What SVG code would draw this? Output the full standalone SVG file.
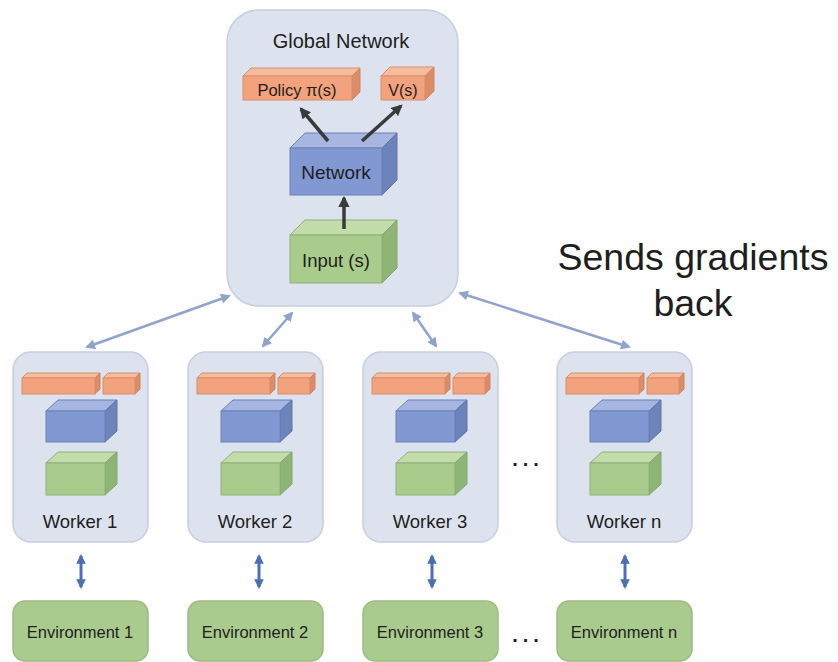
<svg xmlns="http://www.w3.org/2000/svg" width="838" height="662" viewBox="0 0 838 662">
<defs>
<style>
text{font-family:"Liberation Sans",Arial,sans-serif;fill:#1e1e1e;text-anchor:middle}
.panel{fill:#dce3ef;stroke:#c6cfe0;stroke-width:1.5}
.env{fill:#aacb8e;stroke:#9bbb80;stroke-width:1.5}
.of{fill:#f2a27c;stroke:#d98e6a;stroke-width:1}
.ot{fill:#f6bc9f;stroke:#d98e6a;stroke-width:1}
.or{fill:#db8c68;stroke:#d08462;stroke-width:1}
.bf{fill:#8198d2;stroke:#6a80b8;stroke-width:1}
.bt{fill:#a6b6e0;stroke:#6a80b8;stroke-width:1}
.br{fill:#6d83bc;stroke:#60759f;stroke-width:1}
.gf{fill:#a9cc8c;stroke:#8fb074;stroke-width:1}
.gt{fill:#c3dcab;stroke:#8fb074;stroke-width:1}
.gr{fill:#8fb576;stroke:#82a56a;stroke-width:1}
.dk{stroke:#3a3a3a;stroke-width:3.5;fill:none}
.lb{stroke:#8fa3cc;stroke-width:2.5;fill:none}
.bl{stroke:#4a6fb5;stroke-width:3;fill:none}
.wl{font-size:18.5px}
.el{font-size:16.5px}
</style>
<marker id="mdk" viewBox="0 0 10 10" refX="8" refY="5" markerWidth="3.2" markerHeight="3.2" orient="auto-start-reverse"><path d="M0,0L10,5L0,10z" fill="#3a3a3a"/></marker>
<marker id="mlb" viewBox="0 0 10 10" refX="8" refY="5" markerWidth="4" markerHeight="4" orient="auto-start-reverse"><path d="M0,0L10,5L0,10z" fill="#8fa3cc"/></marker>
<marker id="mbl" viewBox="0 0 10 10" refX="8" refY="5" markerWidth="3.2" markerHeight="3.2" orient="auto-start-reverse"><path d="M0,0L10,5L0,10z" fill="#4a6fb5"/></marker>
</defs>
<rect width="838" height="662" fill="#ffffff"/>

<g id="global">
<rect class="panel" x="227" y="10" width="231" height="296" rx="32"/>
<text x="341" y="48" font-size="20">Global Network</text>
<g id="policy">
<polygon class="ot" points="243,76 251,68 360,68 352,76"/>
<polygon class="or" points="352,76 360,68 360,92 352,100"/>
<rect class="of" x="243" y="76" width="109" height="24"/>
<text x="297" y="96" font-size="16.5">Policy π(s)</text>
</g>
<g id="value">
<polygon class="ot" points="381,76 390,67 434,67 425,76"/>
<polygon class="or" points="425,76 434,67 434,91 425,100"/>
<rect class="of" x="381" y="76" width="44" height="24"/>
<text x="403" y="96" font-size="16">V(s)</text>
</g>
<g id="network">
<polygon class="bt" points="290,148 305,133 397,133 382,148"/>
<polygon class="br" points="382,148 397,133 397,180 382,195"/>
<rect class="bf" x="290" y="148" width="92" height="47"/>
<text x="336" y="179" font-size="19">Network</text>
</g>
<g id="input">
<polygon class="gt" points="290,235 305,220 397,220 382,235"/>
<polygon class="gr" points="382,235 397,220 397,268 382,283"/>
<rect class="gf" x="290" y="235" width="92" height="48"/>
<text x="336" y="267" font-size="18.5">Input (s)</text>
</g>
</g>

<g id="connectors">
<line class="dk" x1="328" y1="141" x2="301" y2="109" marker-end="url(#mdk)"/>
<line class="dk" x1="362" y1="141" x2="401" y2="106" marker-end="url(#mdk)"/>
<line class="dk" x1="344" y1="229" x2="344" y2="198" marker-end="url(#mdk)"/>
<line class="lb" x1="229" y1="296" x2="87" y2="347" marker-start="url(#mlb)" marker-end="url(#mlb)"/>
<line class="lb" x1="292" y1="313" x2="263" y2="346" marker-start="url(#mlb)" marker-end="url(#mlb)"/>
<line class="lb" x1="413" y1="313" x2="436" y2="346" marker-start="url(#mlb)" marker-end="url(#mlb)"/>
<line class="lb" x1="460" y1="293" x2="629" y2="347" marker-start="url(#mlb)" marker-end="url(#mlb)"/>
<line class="bl" x1="81" y1="556" x2="81" y2="587" marker-start="url(#mbl)" marker-end="url(#mbl)"/>
<line class="bl" x1="259" y1="556" x2="259" y2="587" marker-start="url(#mbl)" marker-end="url(#mbl)"/>
<line class="bl" x1="432" y1="556" x2="432" y2="587" marker-start="url(#mbl)" marker-end="url(#mbl)"/>
<line class="bl" x1="625" y1="556" x2="625" y2="587" marker-start="url(#mbl)" marker-end="url(#mbl)"/>
</g>

<g id="worker1" transform="translate(13,0)">
<rect class="panel" x="0" y="352" width="135" height="190" rx="18"/>
<polygon class="ot" points="9,378 14,373 87,373 82,378"/><polygon class="or" points="82,378 87,373 87,389 82,394"/><rect class="of" x="9" y="378" width="73" height="16"/>
<polygon class="ot" points="90,378 95,373 127,373 122,378"/><polygon class="or" points="122,378 127,373 127,389 122,394"/><rect class="of" x="90" y="378" width="32" height="16"/>
<polygon class="bt" points="33,411 45,400 104,400 92,411"/><polygon class="br" points="92,411 104,400 104,431 92,442"/><rect class="bf" x="33" y="411" width="59" height="31"/>
<polygon class="gt" points="33,463 45,452 104,452 92,463"/><polygon class="gr" points="92,463 104,452 104,484 92,495"/><rect class="gf" x="33" y="463" width="59" height="32"/>
<text class="wl" x="67" y="528">Worker 1</text>
</g>
<g id="worker2" transform="translate(188,0)">
<rect class="panel" x="0" y="352" width="135" height="190" rx="18"/>
<polygon class="ot" points="9,378 14,373 87,373 82,378"/><polygon class="or" points="82,378 87,373 87,389 82,394"/><rect class="of" x="9" y="378" width="73" height="16"/>
<polygon class="ot" points="90,378 95,373 127,373 122,378"/><polygon class="or" points="122,378 127,373 127,389 122,394"/><rect class="of" x="90" y="378" width="32" height="16"/>
<polygon class="bt" points="33,411 45,400 104,400 92,411"/><polygon class="br" points="92,411 104,400 104,431 92,442"/><rect class="bf" x="33" y="411" width="59" height="31"/>
<polygon class="gt" points="33,463 45,452 104,452 92,463"/><polygon class="gr" points="92,463 104,452 104,484 92,495"/><rect class="gf" x="33" y="463" width="59" height="32"/>
<text class="wl" x="67" y="528">Worker 2</text>
</g>
<g id="worker3" transform="translate(363,0)">
<rect class="panel" x="0" y="352" width="135" height="190" rx="18"/>
<polygon class="ot" points="9,378 14,373 87,373 82,378"/><polygon class="or" points="82,378 87,373 87,389 82,394"/><rect class="of" x="9" y="378" width="73" height="16"/>
<polygon class="ot" points="90,378 95,373 127,373 122,378"/><polygon class="or" points="122,378 127,373 127,389 122,394"/><rect class="of" x="90" y="378" width="32" height="16"/>
<polygon class="bt" points="33,411 45,400 104,400 92,411"/><polygon class="br" points="92,411 104,400 104,431 92,442"/><rect class="bf" x="33" y="411" width="59" height="31"/>
<polygon class="gt" points="33,463 45,452 104,452 92,463"/><polygon class="gr" points="92,463 104,452 104,484 92,495"/><rect class="gf" x="33" y="463" width="59" height="32"/>
<text class="wl" x="67" y="528">Worker 3</text>
</g>
<g id="workern" transform="translate(557,0)">
<rect class="panel" x="0" y="352" width="135" height="190" rx="18"/>
<polygon class="ot" points="9,378 14,373 87,373 82,378"/><polygon class="or" points="82,378 87,373 87,389 82,394"/><rect class="of" x="9" y="378" width="73" height="16"/>
<polygon class="ot" points="90,378 95,373 127,373 122,378"/><polygon class="or" points="122,378 127,373 127,389 122,394"/><rect class="of" x="90" y="378" width="32" height="16"/>
<polygon class="bt" points="33,411 45,400 104,400 92,411"/><polygon class="br" points="92,411 104,400 104,431 92,442"/><rect class="bf" x="33" y="411" width="59" height="31"/>
<polygon class="gt" points="33,463 45,452 104,452 92,463"/><polygon class="gr" points="92,463 104,452 104,484 92,495"/><rect class="gf" x="33" y="463" width="59" height="32"/>
<text class="wl" x="67" y="528">Worker n</text>
</g>

<g id="env1"><rect class="env" x="13" y="601" width="135" height="60" rx="12"/><text class="el" x="80" y="638">Environment 1</text></g>
<g id="env2"><rect class="env" x="188" y="601" width="135" height="60" rx="12"/><text class="el" x="255" y="638">Environment 2</text></g>
<g id="env3"><rect class="env" x="363" y="601" width="135" height="60" rx="12"/><text class="el" x="430" y="638">Environment 3</text></g>
<g id="envn"><rect class="env" x="557" y="601" width="135" height="60" rx="12"/><text class="el" x="624" y="638">Environment n</text></g>

<text x="528" y="466" font-size="20" font-weight="bold" letter-spacing="5">...</text>
<text x="528" y="642" font-size="20" font-weight="bold" letter-spacing="5">...</text>

<g id="label-gradients">
<text x="693" y="270" font-size="37.5">Sends gradients</text>
<text x="693" y="316" font-size="37.5">back</text>
</g>
</svg>
